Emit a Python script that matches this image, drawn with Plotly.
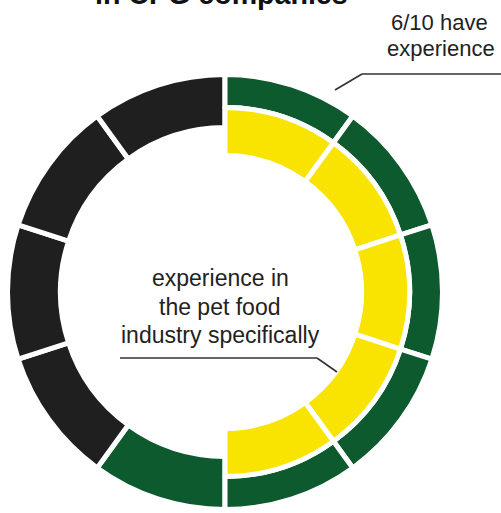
import plotly.graph_objects as go

# ---- data ----
segments = ["1", "2", "3", "4", "5", "6", "7", "8", "9", "10"]
segment_values = [1, 1, 1, 1, 1, 1, 1, 1, 1, 1]
has_experience = [1, 1, 1, 1, 1, 1, 0, 0, 0, 0]      # 6/10 have experience
pet_food_experience = [1, 1, 1, 1, 1, 0, 0, 0, 0, 0]  # pet food industry specifically
title_text = "in CPG companies"
label_experience = ["6/10 have", "experience"]
label_petfood = ["experience in", "the pet food", "industry specifically"]

GREEN = "#0d5a2e"
BLACK = "#1f1f1f"
YELLOW = "#f8e400"
CLEAR = "rgba(0,0,0,0)"
TEXT = "#222222"

W, H = 501, 513
CX, CY = 225, 292
GAP = 5


def domain(r):
    return dict(x=[(CX - r) / W, (CX + r) / W], y=[(H - CY - r) / H, (H - CY + r) / H])


n = len(segments)
half = n // 2
# thick ring on the left half (black / green)
colA = [CLEAR if i < half else (GREEN if has_experience[i] else BLACK) for i in range(n)]
lwA = [0 if i < half else GAP for i in range(n)]
# thin outer green ring on the right half
colB = [(GREEN if has_experience[i] else BLACK) if i < half else CLEAR for i in range(n)]
lwB = [GAP if i < half else 0 for i in range(n)]
# inner yellow ring
colC = [YELLOW if pet_food_experience[i] else CLEAR for i in range(n)]
lwC = [GAP if pet_food_experience[i] else 0 for i in range(n)]

fig = go.Figure()
rA_out, rA_in = 217.5, 164.5
rB_out, rB_in = 217.5, 184.5
rC_out, rC_in = 184.5, 136.5
for cols, lws, ro, ri in [(colA, lwA, rA_out, rA_in), (colB, lwB, rB_out, rB_in), (colC, lwC, rC_out, rC_in)]:
    fig.add_trace(go.Pie(
        labels=segments, values=segment_values, sort=False, direction="clockwise", rotation=0,
        hole=ri / ro, domain=domain(ro), textinfo="none", hoverinfo="skip", showlegend=False,
        marker=dict(colors=cols, line=dict(color="white", width=lws)),
    ))


def px(x):
    return x / W


def py(y):
    return 1 - y / H


FONT = "Liberation Sans, Arial, Helvetica, sans-serif"
ann = []
ann.append(dict(text="<b>" + title_text + "</b>", x=px(221), y=py(-5.5), xanchor="center", yanchor="middle",
                showarrow=False, font=dict(family=FONT, size=28.6, color="#111")))
for t, (xc, yc) in zip(label_experience, [(439, 22), (441, 48)]):
    ann.append(dict(text=t, x=px(xc), y=py(yc), xanchor="center", yanchor="middle", showarrow=False,
                    font=dict(family=FONT, size=22, color=TEXT)))
for t, (xc, yc) in zip(label_petfood, [(220, 278), (220, 306.5), (220, 335)]):
    ann.append(dict(text=t, x=px(xc), y=py(yc), xanchor="center", yanchor="middle", showarrow=False,
                    font=dict(family=FONT, size=23, color=TEXT)))

shapes = []
for pts in [[(335, 90), (362, 74), (501, 74)], [(120, 358), (317, 358), (337, 372)]]:
    for (x0, y0), (x1, y1) in zip(pts[:-1], pts[1:]):
        shapes.append(dict(type="line", xref="paper", yref="paper", x0=px(x0), y0=py(y0), x1=px(x1), y1=py(y1),
                           line=dict(color="#333", width=1.6)))

fig.update_layout(width=W, height=H, margin=dict(l=0, r=0, t=0, b=0), paper_bgcolor="white",
                  plot_bgcolor="white", annotations=ann, shapes=shapes)
fig.write_html("out.html")
